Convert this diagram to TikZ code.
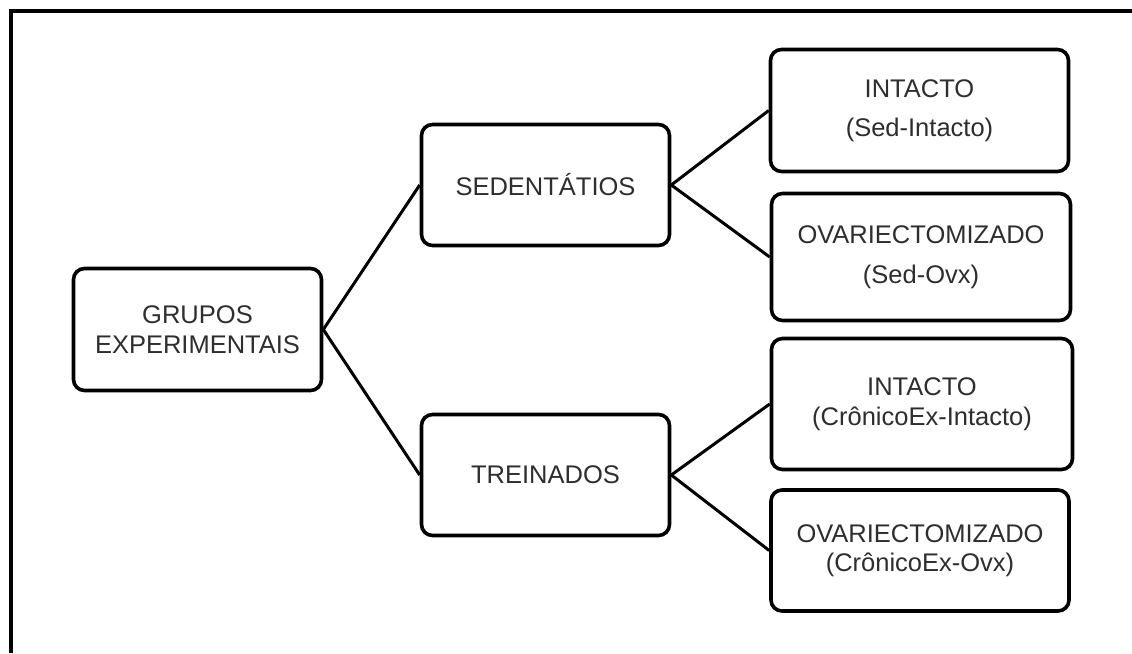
\documentclass[tikz,border=0pt]{standalone}
\usepackage{fontspec}
\setmainfont{Liberation Sans}
\definecolor{txt}{gray}{0.18}
\begin{document}
\begin{tikzpicture}[x=1pt,y=-1pt,
  box/.style={draw=black, line width=3.6pt, rounded corners=11pt, fill=white,
    align=center, text=txt, inner sep=0pt,
    font=\fontsize{25.5}{29.5}\selectfont},
  link/.style={draw=black, line width=3pt},
  frame/.style={draw=black, line width=4pt}]
\useasboundingbox (0,0) rectangle (1132,653);
% frame (top and left only)
\coordinate (ftr) at (1132,10.5);
\coordinate (ftl) at (10.5,10.5);
\coordinate (fbl) at (10.5,653);
\draw[frame] (ftr) -- (ftl) -- (fbl);
% nodes
\node[box, minimum width=248pt, minimum height=122pt] (g) at (197.5,329.5) {GRUPOS\\EXPERIMENTAIS};
\node[box, minimum width=248pt, minimum height=121pt] (sed) at (545.5,185) {SEDENTÁTIOS};
\node[box, minimum width=248pt, minimum height=121pt] (tre) at (545.5,475) {TREINADOS};
\node[box, minimum width=298pt, minimum height=122pt] (i1) at (919.5,110.5) {INTACTO\\[10pt](Sed-Intacto)};
\node[box, minimum width=299pt, minimum height=127pt] (o1) at (921,257) {OVARIECTOMIZADO\\[10pt](Sed-Ovx)};
\node[box, minimum width=301pt, minimum height=131pt] (i2) at (922,404) {INTACTO\\(CrônicoEx-Intacto)};
\node[box, minimum width=298pt, minimum height=121pt] (o2) at (920,550.5) {OVARIECTOMIZADO\\(CrônicoEx-Ovx)};
% connectors
\draw[link] (g.east) -- (sed.west);
\draw[link] (g.east) -- (tre.west);
\draw[link] (sed.east) -- (i1.west);
\draw[link] (sed.east) -- (o1.west);
\draw[link] (tre.east) -- (i2.west);
\draw[link] (tre.east) -- (o2.west);
\end{tikzpicture}
\end{document}
